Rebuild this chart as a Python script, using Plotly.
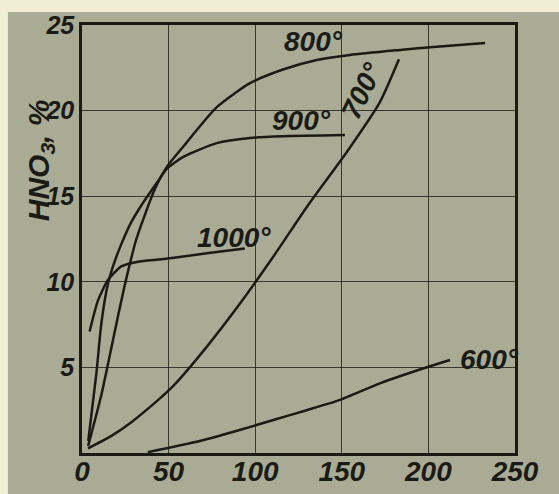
import plotly.graph_objects as go

# Time axis (x) and HNO3 concentration (%) for each furnace temperature
x_600 = [38, 68, 91, 110.5, 129.7, 149, 172, 200, 212.5]
y_600 = [0.05, 0.7, 1.34, 1.93, 2.5, 3.1, 4.07, 5.04, 5.43]

x_700 = [3.5, 17, 28.5, 44, 53, 72, 91, 110, 130, 153, 172, 183]
y_700 = [0.27, 1.0, 1.8, 3.1, 3.95, 6.2, 8.7, 11.4, 14.4, 17.6, 20.5, 23.0]

x_800 = [3.5, 11.2, 20.8, 25.6, 31.4, 42, 48.9, 58.5, 77.8, 97, 116, 135.5, 154.7, 183.6, 201, 232.7]
y_800 = [0.4, 3.4, 8.0, 10.2, 12.5, 15.4, 16.7, 17.9, 20.2, 21.6, 22.4, 22.96, 23.25, 23.54, 23.7, 23.95]

x_900 = [3.6, 8.3, 11.2, 15, 18.9, 22.7, 28, 34.5, 44, 48.9, 58.5, 77.8, 97, 116, 151.8]
y_900 = [0.7, 4.65, 7.6, 9.9, 11.2, 12.2, 13.4, 14.5, 15.9, 16.6, 17.3, 18.1, 18.4, 18.5, 18.57]

x_1000 = [4.4, 9.2, 15, 22.7, 32.3, 44, 53, 72, 94]
y_1000 = [7.1, 8.9, 10.1, 10.9, 11.17, 11.3, 11.4, 11.67, 11.95]

x_ticks = [0, 50, 100, 150, 200, 250]
y_ticks = [5, 10, 15, 20, 25]

series = [
    ("600°", x_600, y_600),
    ("700°", x_700, y_700),
    ("800°", x_800, y_800),
    ("900°", x_900, y_900),
    ("1000°", x_1000, y_1000),
]

INK = "#1b1b16"
PAPER = "#f2eed6"
CARD = "#a9ab95"
FONT = "Liberation Sans"

fig = go.Figure()
for name, xs, ys in series:
    fig.add_trace(go.Scatter(
        x=xs, y=ys, name=name, mode="lines",
        line=dict(color=INK, width=2.5, shape="spline", smoothing=0.6),
        showlegend=False, hoverinfo="skip",
    ))

# curve labels: (text, x, y, angle)
curve_labels = [
    ("800°", 133.5, 24.05, 0),
    ("900°", 126.5, 19.4, 0),
    ("700°", 161.5, 21.2, -64),
    ("1000°", 87.5, 12.6, 0),
    ("600°", 235.5, 5.45, 0),
]
for text, lx, ly, ang in curve_labels:
    fig.add_annotation(
        x=lx, y=ly, xref="x", yref="y", text=text, showarrow=False,
        textangle=ang, xanchor="center", yanchor="middle",
        font=dict(family=FONT, size=28, color=INK, style="italic", weight="bold"),
    )

# y-axis title
fig.add_annotation(
    x=-0.097, y=17.1, xref="paper", yref="y",
    text="HNO<sub>3</sub>, %", showarrow=False, textangle=-90,
    xanchor="center", yanchor="middle",
    font=dict(family=FONT, size=30, color=INK, style="italic", weight="bold"),
)

# grey card behind the plot
fig.add_shape(
    type="rect", xref="paper", yref="paper",
    x0=-0.171, x1=1.3, y0=-0.3, y1=1.0304,
    fillcolor=CARD, line=dict(width=0), layer="below",
)

axis_common = dict(
    showline=True, linecolor=INK, linewidth=2.5, mirror=True,
    showgrid=True, gridcolor="rgba(35,35,28,0.85)", gridwidth=1.2,
    zeroline=False, ticks="", automargin=False,
)

fig.update_layout(
    width=559, height=494,
    margin=dict(l=82, r=44, t=25, b=41),
    paper_bgcolor=PAPER, plot_bgcolor=CARD,
    xaxis=dict(range=[0, 250], tickvals=x_ticks, ticktext=[str(v) for v in x_ticks],
               ticklabelstandoff=-8,
               tickfont=dict(family=FONT, size=28, color=INK, style="italic", weight="bold"),
               **axis_common),
    yaxis=dict(range=[0, 25], tickvals=y_ticks, ticktext=[str(v) for v in y_ticks],
               tickfont=dict(family=FONT, size=25, color=INK, style="italic", weight="bold"),
               **axis_common),
)

fig.write_html("out.html")
